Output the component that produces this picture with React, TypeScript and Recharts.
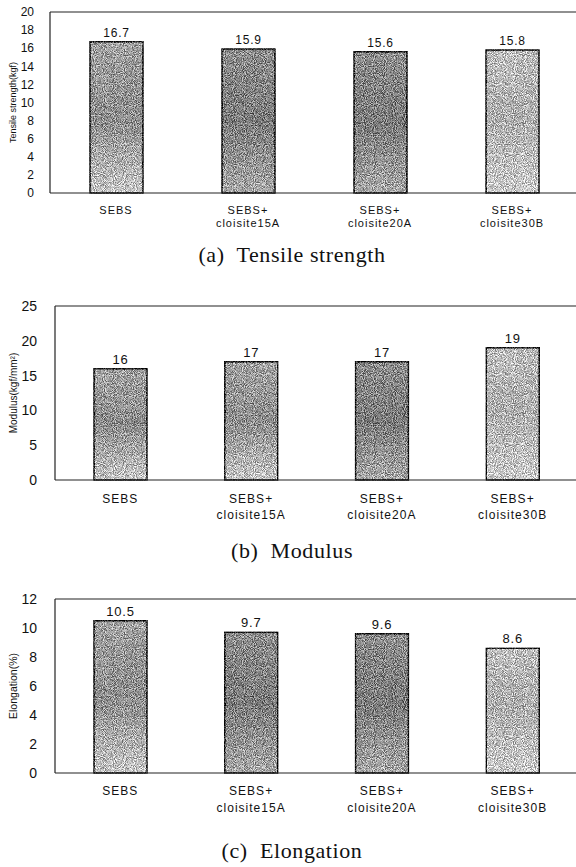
import React from 'react';
import { BarChart, Bar, XAxis, YAxis, Cell, LabelList, Label, ReferenceLine } from 'recharts';

const categories = ['SEBS', 'SEBS+\ncloisite15A', 'SEBS+\ncloisite20A', 'SEBS+\ncloisite30B'];
const tensileValues = [16.7, 15.9, 15.6, 15.8];
const modulusValues = [16, 17, 17, 19];
const elongationValues = [10.5, 9.7, 9.6, 8.6];
const tensileTicks = [0, 2, 4, 6, 8, 10, 12, 14, 16, 18, 20];
const modulusTicks = [0, 5, 10, 15, 20, 25];
const elongationTicks = [0, 2, 4, 6, 8, 10, 12];
const tensileTitle = 'Tensile strength(kgf)';
const modulusTitle = 'Modulus(kgf/mm²)';
const elongationTitle = 'Elongation(%)';
const captions = ['(a)  Tensile strength', '(b)  Modulus', '(c)  Elongation'];

const SANS = '"Liberation Sans", Arial, sans-serif';
const SERIF = '"Liberation Serif", "Times New Roman", serif';

// gradient tones (style only)
const TONES: Record<string, [string, string, string]> = {
  mid: ['#a2a2a2', '#8c8c8c', '#c6c6c6'],
  dark: ['#8e8e8e', '#7a7a7a', '#a8a8a8'],
  light: ['#bdbdbd', '#afafaf', '#cccccc'],
};

type PanelStyle = {
  id: string;
  top: number;
  marginTop: number;
  plotHeight: number;
  yWidth: number;
  tickFont: number;
  tickMargin: number;
  labelFont: number;
  catFont: number;
  line1: number;
  line2: number;
  titleFont: number;
  tones: string[];
};

const CatTick = (props: any) => {
  const { x, y, payload, line1, line2, catFont } = props;
  const lines = String(payload.value).split('\n');
  return (
    <text x={x} y={y} textAnchor="middle" fontSize={catFont} fontFamily={SANS} fill="#111" style={{ letterSpacing: 1 }}>
      {lines.map((l: string, i: number) => (
        <tspan key={i} x={x} y={y + (i === 0 ? line1 : line2)}>
          {l}
        </tspan>
      ))}
    </text>
  );
};

function Panel({ values, ticks, title, st }: { values: number[]; ticks: number[]; title: string; st: PanelStyle }) {
  const data = categories.map((c, i) => ({ name: c, value: values[i] }));
  const max = ticks[ticks.length - 1];
  const height = st.marginTop + st.plotHeight + 48;
  return (
    <div style={{ position: 'absolute', left: 0, top: st.top }}>
      <BarChart width={578} height={height} data={data} margin={{ top: st.marginTop, right: 0, bottom: 0, left: 0 }}>
        <defs>
          {Object.keys(TONES).map((k) => (
            <linearGradient key={k} id={`${st.id}-${k}`} x1="0" y1="0" x2="0" y2="1">
              <stop offset="0%" stopColor={TONES[k][0]} />
              <stop offset="50%" stopColor={TONES[k][1]} />
              <stop offset="100%" stopColor={TONES[k][2]} />
            </linearGradient>
          ))}
          <filter id={`${st.id}-grain`} x="-5%" y="-5%" width="110%" height="110%" colorInterpolationFilters="sRGB">
            <feTurbulence type="fractalNoise" baseFrequency="1.1" numOctaves="1" seed="4" result="noise" />
            <feColorMatrix in="noise" type="matrix" values="2.6 0 0 0 -0.8  2.6 0 0 0 -0.8  2.6 0 0 0 -0.8  0 0 0 0 1" result="gray" />
            <feComposite in="SourceGraphic" in2="gray" operator="arithmetic" k1="0" k2="1" k3="0.55" k4="-0.275" result="mixed" />
            <feComposite in="mixed" in2="SourceGraphic" operator="in" />
          </filter>
        </defs>
        <XAxis
          dataKey="name"
          height={48}
          tickLine={false}
          tickSize={0}
          tickMargin={0}
          interval={0}
          axisLine={{ stroke: '#222', strokeWidth: 1.2 }}
          tick={<CatTick line1={st.line1} line2={st.line2} catFont={st.catFont} />}
        />
        <YAxis
          width={st.yWidth}
          domain={[0, max]}
          ticks={ticks}
          interval={0}
          tickLine={false}
          tickMargin={st.tickMargin}
          axisLine={{ stroke: '#222', strokeWidth: 1.2 }}
          tick={{ fontSize: st.tickFont, fontFamily: SANS, fill: '#111' }}
        >
          <Label
            content={(p: any) => {
              const vb = p.viewBox || {};
              const cy = vb.y + vb.height / 2;
              return (
                <text x={13} y={cy} transform={`rotate(-90 13 ${cy})`} textAnchor="middle" dominantBaseline="central" fontSize={st.titleFont} fontFamily={SANS} fill="#111">
                  {title}
                </text>
              );
            }}
          />
        </YAxis>
        <ReferenceLine y={max} stroke="#222" strokeWidth={1.2} />
        <Bar dataKey="value" barSize={53} stroke="#111" strokeWidth={1.5} isAnimationActive={false}>
          {data.map((d, i) => (
            <Cell key={d.name} fill={`url(#${st.id}-${st.tones[i]})`} filter={`url(#${st.id}-grain)`} />
          ))}
          <LabelList dataKey="value" position="top" offset={5} fontSize={st.labelFont} fontFamily={SANS} fill="#111" style={{ letterSpacing: 0.8 }} />
        </Bar>
      </BarChart>
    </div>
  );
}

const styleA: PanelStyle = { id: 'a', top: 0, marginTop: 12, plotHeight: 181, yWidth: 50, tickFont: 12, tickMargin: 10, labelFont: 12, catFont: 11, line1: 21, line2: 34, titleFont: 9, tones: ['mid', 'dark', 'dark', 'light'] };
const styleB: PanelStyle = { id: 'b', top: 290, marginTop: 16, plotHeight: 174, yWidth: 55, tickFont: 14, tickMargin: 12, labelFont: 13, catFont: 12, line1: 23, line2: 39, titleFont: 10, tones: ['mid', 'mid', 'dark', 'light'] };
const styleC: PanelStyle = { id: 'c', top: 583, marginTop: 16, plotHeight: 174, yWidth: 55, tickFont: 14, tickMargin: 12, labelFont: 13, catFont: 12, line1: 22, line2: 39, titleFont: 10.5, tones: ['mid', 'dark', 'dark', 'light'] };

export default function App() {
  return (
    <div style={{ position: 'absolute', left: 0, top: 0, width: 576, height: 867, overflow: 'hidden', background: '#fff' }}>
      <Panel values={tensileValues} ticks={tensileTicks} title={tensileTitle} st={styleA} />
      <Panel values={modulusValues} ticks={modulusTicks} title={modulusTitle} st={styleB} />
      <Panel values={elongationValues} ticks={elongationTicks} title={elongationTitle} st={styleC} />
      <svg width={576} height={867} style={{ position: 'absolute', left: 0, top: 0, pointerEvents: 'none' }}>
        <text x={292} y={262} textAnchor="middle" fontSize={22} fontFamily={SERIF} fill="#111" style={{ whiteSpace: 'pre', letterSpacing: 0.6 }}>{captions[0]}</text>
        <text x={292} y={558} textAnchor="middle" fontSize={22} fontFamily={SERIF} fill="#111" style={{ whiteSpace: 'pre', letterSpacing: 0.6 }}>{captions[1]}</text>
        <text x={292} y={858} textAnchor="middle" fontSize={22} fontFamily={SERIF} fill="#111" style={{ whiteSpace: 'pre', letterSpacing: 0.6 }}>{captions[2]}</text>
      </svg>
    </div>
  );
}
